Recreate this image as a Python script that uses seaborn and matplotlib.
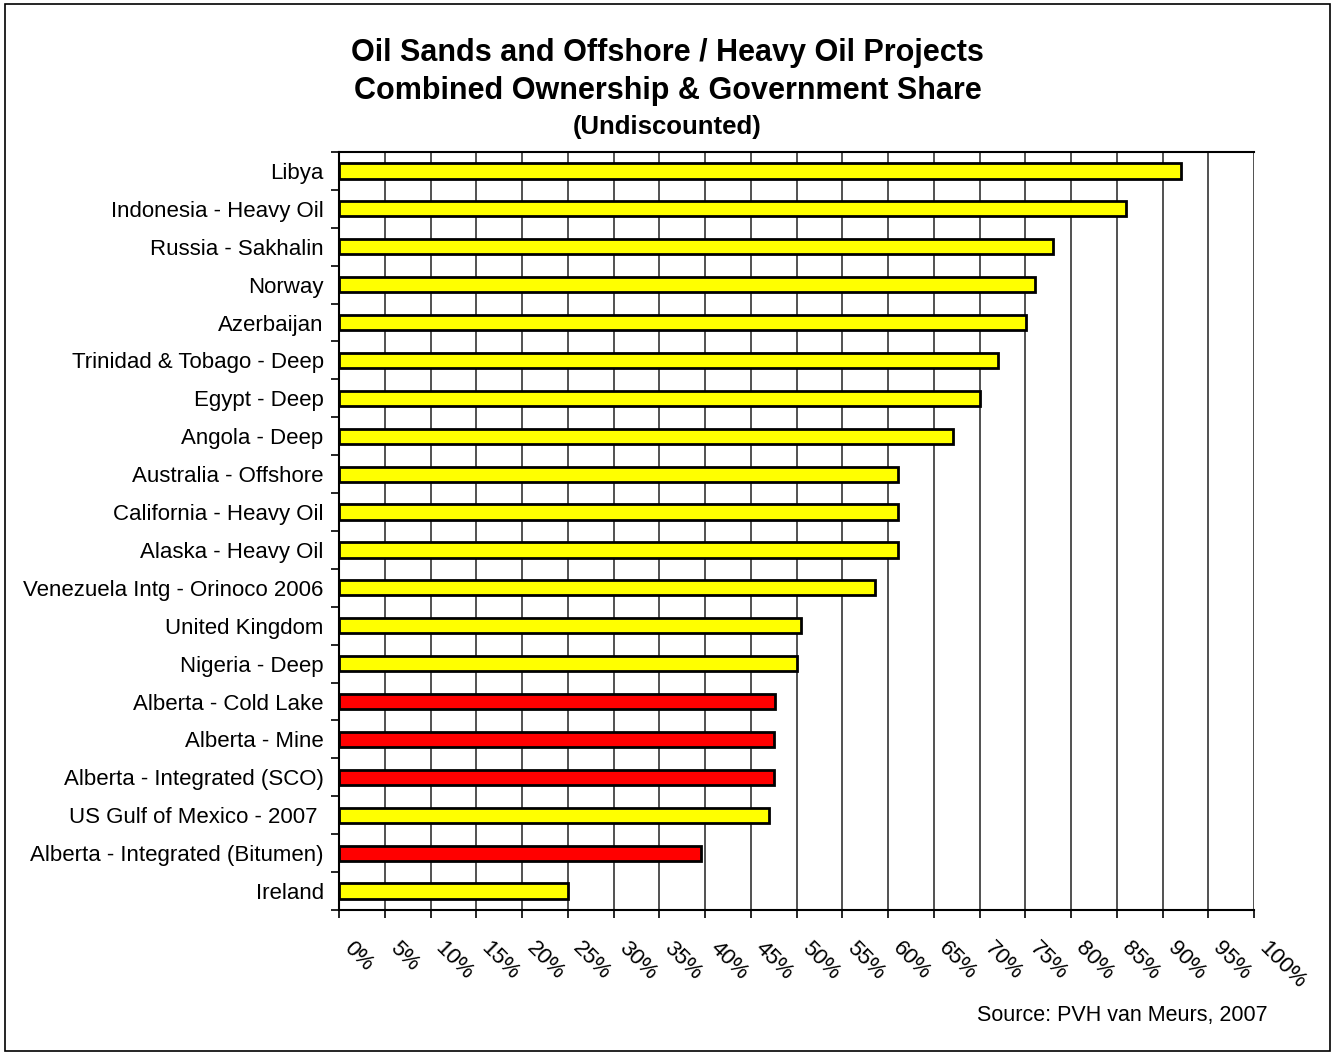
import numpy as np
import pandas as pd
import matplotlib
matplotlib.use('Agg')
import matplotlib.pyplot as plt
import matplotlib.transforms as mtransforms
import seaborn as sns
from matplotlib.ticker import MultipleLocator, FixedLocator, PercentFormatter

# ── data ────────────────────────────────────────────
projects = [
    'Libya', 'Indonesia - Heavy Oil', 'Russia - Sakhalin', 'Norway', 'Azerbaijan',
    'Trinidad & Tobago - Deep', 'Egypt - Deep', 'Angola - Deep', 'Australia - Offshore',
    'California - Heavy Oil', 'Alaska - Heavy Oil', 'Venezuela Intg - Orinoco 2006',
    'United Kingdom', 'Nigeria - Deep', 'Alberta - Cold Lake', 'Alberta - Mine',
    'Alberta - Integrated (SCO)', 'US Gulf of Mexico - 2007 ', 'Alberta - Integrated (Bitumen)',
    'Ireland',
]
share = [92.0, 86.0, 78.0, 76.1, 75.1, 72.0, 70.0, 67.1, 61.1, 61.1, 61.1, 58.6,
         50.5, 50.0, 47.7, 47.5, 47.5, 47.0, 39.6, 25.0]
is_alberta = [False] * 14 + [True, True, True, False, True, False]

YELLOW = '#FFFF00'
RED = '#FF0000'

df = pd.DataFrame({'project': projects, 'share': share})
palette = {p: (RED if a else YELLOW) for p, a in zip(projects, is_alberta)}

# ── plot ────────────────────────────────────────────
sns.set_style('white')
plt.rcParams['font.family'] = ['Liberation Sans', 'DejaVu Sans']
plt.rcParams['text.color'] = 'black'

fig = plt.figure(figsize=(13.35, 10.55), dpi=100)
ax = fig.add_axes([339 / 1335, 1 - 910 / 1055, (1254 - 339) / 1335, (910 - 152) / 1055])

sns.barplot(data=df, x='share', y='project', hue='project', palette=palette,
            legend=False, width=0.4, saturation=1, edgecolor='black', linewidth=2,
            ax=ax, orient='h', zorder=3)

ax.set_xlim(0, 100)
ax.set_ylim(len(projects) - 0.5, -0.5)
ax.set_xlabel('')
ax.set_ylabel('')

# vertical gridlines every 5%
ax.xaxis.set_major_locator(MultipleLocator(5))
ax.xaxis.set_major_formatter(PercentFormatter(decimals=0))
ax.grid(axis='x', color='#333333', linewidth=1.2, zorder=0)
ax.set_axisbelow(True)

for side in ['left', 'bottom', 'top']:
    ax.spines[side].set_visible(True)
    ax.spines[side].set_color('black')
    ax.spines[side].set_linewidth(1.5)
ax.spines['right'].set_visible(False)

# y: labels at centers, tick marks between categories
ax.tick_params(axis='y', which='major', length=0, pad=11, labelsize=16, labelcolor='black')
ax.yaxis.set_minor_locator(FixedLocator(np.arange(-0.5, len(projects) + 0.5, 1)))
ax.tick_params(axis='y', which='minor', left=True, length=6, width=1.2, color='black')

ax.tick_params(axis='x', which='major', bottom=True, length=6, width=1.2, color='black',
               labelsize=16, labelcolor='black', pad=19)
shift = mtransforms.ScaledTranslation(8 / 100, 0, fig.dpi_scale_trans)
for lbl in ax.get_xticklabels():
    lbl.set_rotation(-45)
    lbl.set_rotation_mode('anchor')
    lbl.set_ha('left')
    lbl.set_va('center')
    lbl.set_transform(lbl.get_transform() + shift)

# titles
fig.text(0.5, 1 - 53 / 1055, 'Oil Sands and Offshore / Heavy Oil Projects',
         ha='center', va='center', fontsize=22, fontweight='bold')
fig.text(0.5, 1 - 91 / 1055, 'Combined Ownership & Government Share',
         ha='center', va='center', fontsize=22, fontweight='bold')
fig.text(0.5, 1 - 127 / 1055, '(Undiscounted)',
         ha='center', va='center', fontsize=18.5, fontweight='bold')

fig.text(1268 / 1335, 1 - 1015 / 1055, 'Source: PVH van Meurs, 2007',
         ha='right', va='center', fontsize=15.5)

# outer frame
fig.patches.append(plt.Rectangle((5 / 1335, 4 / 1055), 1 - 10 / 1335, 1 - 8 / 1055,
                                 transform=fig.transFigure, fill=False,
                                 edgecolor='black', linewidth=1.2))

fig.savefig('out.png', dpi=100)
